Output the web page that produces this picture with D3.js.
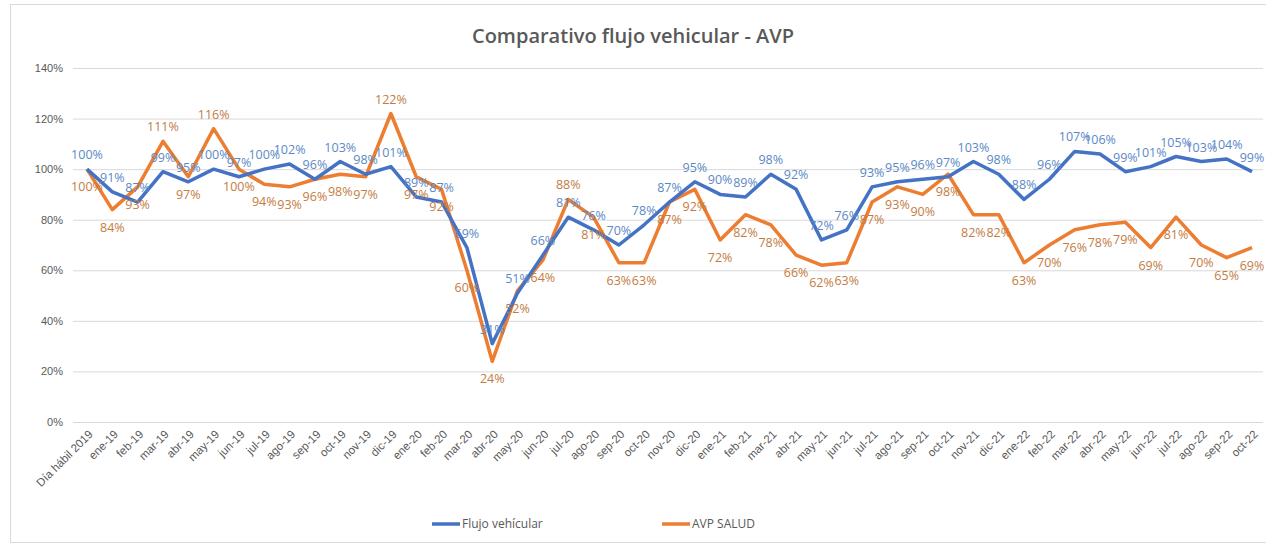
<!DOCTYPE html>
<html>
<head>
<meta charset="utf-8">
<script src="https://cdn.jsdelivr.net/npm/d3@7"></script>
<style>
  body { margin: 0; background: #fff; }
  svg { display: block; font-family: "Open Sans", sans-serif; }
</style>
</head>
<body>
<svg id="chart" width="1266" height="547"></svg>
<script>
'use strict'

var categories = ['Día hábil 2019',
  'ene-19', 'feb-19', 'mar-19', 'abr-19', 'may-19', 'jun-19', 'jul-19', 'ago-19', 'sep-19', 'oct-19', 'nov-19', 'dic-19',
  'ene-20', 'feb-20', 'mar-20', 'abr-20', 'may-20', 'jun-20', 'jul-20', 'ago-20', 'sep-20', 'oct-20', 'nov-20', 'dic-20',
  'ene-21', 'feb-21', 'mar-21', 'abr-21', 'may-21', 'jun-21', 'jul-21', 'ago-21', 'sep-21', 'oct-21', 'nov-21', 'dic-21',
  'ene-22', 'feb-22', 'mar-22', 'abr-22', 'may-22', 'jun-22', 'jul-22', 'ago-22', 'sep-22', 'oct-22'];

var flujo = [100,
  91, 87, 99, 95, 100, 97, 100, 102, 96, 103, 98, 101,
  89, 87, 69, 31, 51, 66, 81, 76, 70, 78, 87, 95,
  90, 89, 98, 92, 72, 76, 93, 95, 96, 97, 103, 98,
  88, 96, 107, 106, 99, 101, 105, 103, 104, 99];

var avp = [100,
  84, 93, 111, 97, 116, 100, 94, 93, 96, 98, 97, 122,
  97, 92, 60, 24, 52, 64, 88, 81, 63, 63, 87, 92,
  72, 82, 78, 66, 62, 63, 87, 93, 90, 98, 82, 82,
  63, 70, 76, 78, 79, 69, 81, 70, 65, 69];

var yTicks = [0, 20, 40, 60, 80, 100, 120, 140];

var blue = '#4472C4', orange = '#ED7D31';
var blueText = '#5B89C6', orangeText = '#C47C42';
var grayText = '#595959';

const svg = d3.select('#chart');

// marco del grafico
svg.append('rect')
  .attr('x', 10.5).attr('y', 4.5)
  .attr('width', 1270).attr('height', 538)
  .attr('fill', 'none').attr('stroke', '#d9d9d9');

const x = d3.scalePoint().domain(categories).range([87, 1252]);
const y = d3.scaleLinear().domain([0, 140]).range([422, 68]);
const left = 73, right = 1263;

// eje y + lineas de division
const yAxis = svg.append('g')
  .attr('transform', 'translate(' + left + ',0)')
  .call(d3.axisLeft(y).tickValues(yTicks).tickSize(-(right - left)).tickPadding(10)
    .tickFormat(function(d){ return d + '%'; }));
yAxis.select('.domain').remove();
yAxis.selectAll('line').attr('stroke', '#d9d9d9');
yAxis.selectAll('text').attr('fill', grayText).style('font-size', '11px');

// eje x
const xAxis = svg.append('g')
  .attr('transform', 'translate(0,' + y(0) + ')')
  .call(d3.axisBottom(x).tickSize(0));
xAxis.select('.domain').remove();
xAxis.selectAll('text')
  .attr('fill', grayText)
  .style('font-size', '11.5px')
  .attr('text-anchor', 'end')
  .attr('dy', null)
  .attr('y', 0)
  .attr('transform', 'translate(6,13) rotate(-45)');

svg.append('text')
  .attr('x', 633).attr('y', 43)
  .attr('text-anchor', 'middle')
  .attr('fill', grayText)
  .style('font-size', '20px')
  .style('font-weight', 600)
  .text('Comparativo flujo vehicular - AVP');

const line = d3.line()
  .x(function(d, i){ return x(categories[i]); })
  .y(function(d){ return y(d); });

svg.append('path').datum(avp)
  .attr('d', line).attr('fill', 'none')
  .attr('stroke', orange).attr('stroke-width', 3.5).attr('stroke-linejoin', 'round');
svg.append('path').datum(flujo)
  .attr('d', line).attr('fill', 'none')
  .attr('stroke', blue).attr('stroke-width', 3.5).attr('stroke-linejoin', 'round');

// etiquetas de datos
svg.append('g').selectAll('text')
  .data(flujo).enter().append('text')
  .attr('x', function(d, i){ return x(categories[i]); })
  .attr('y', function(d){ return y(d) - 10; })
  .attr('text-anchor', 'middle')
  .attr('fill', blueText)
  .style('font-size', '12.5px')
  .text(function(d){ return d + '%'; });

function orangeAbove(i){
  var d = avp[i];
  var prev = i > 0 ? avp[i - 1] : -1;
  var next = i < avp.length - 1 ? avp[i + 1] : -1;
  return d > prev && d > next && d > flujo[i] + 5;
}

svg.append('g').selectAll('text')
  .data(avp).enter().append('text')
  .attr('x', function(d, i){ return x(categories[i]); })
  .attr('y', function(d, i){ return orangeAbove(i) ? y(d) - 10 : y(d) + 22; })
  .attr('text-anchor', 'middle')
  .attr('fill', orangeText)
  .style('font-size', '12.5px')
  .text(function(d){ return d + '%'; });

// leyenda
var legend = [
  { name: 'Flujo vehícular', color: blue, x: 432 },
  { name: 'AVP SALUD', color: orange, x: 662 }
];
const lg = svg.append('g').selectAll('g').data(legend).enter().append('g')
  .attr('transform', function(d){ return 'translate(' + d.x + ',524)'; });
lg.append('line').attr('x1', 0).attr('x2', 28).attr('y1', 0).attr('y2', 0)
  .attr('stroke', function(d){ return d.color; }).attr('stroke-width', 3.5);
lg.append('text').attr('x', 30).attr('y', 4)
  .attr('fill', grayText).style('font-size', '12px')
  .text(function(d){ return d.name; });
</script>
</body>
</html>
